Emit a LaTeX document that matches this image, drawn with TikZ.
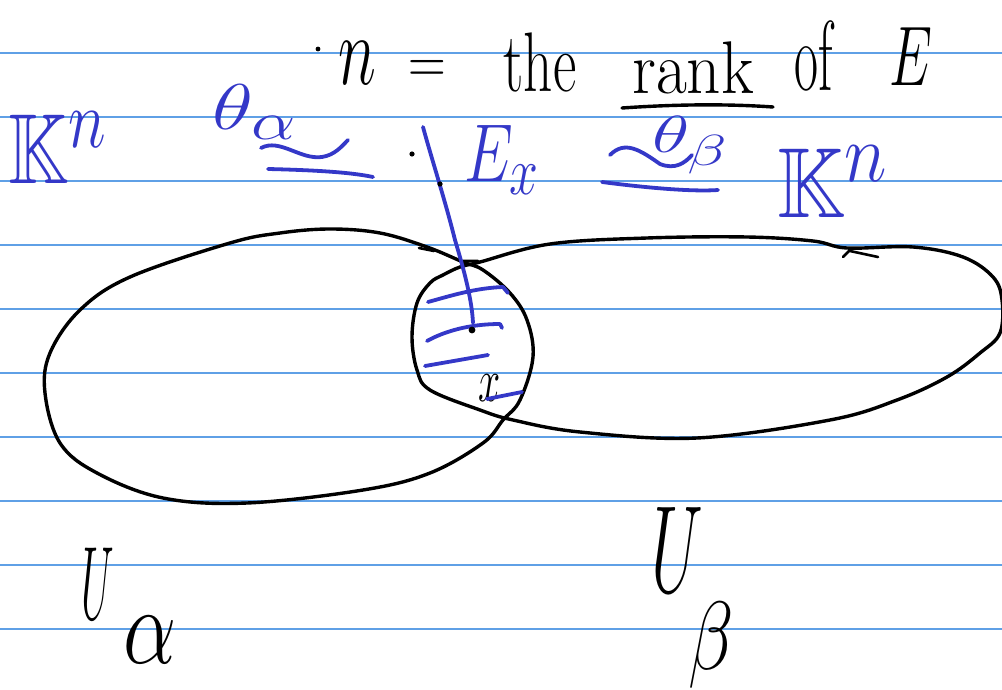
\documentclass[tikz,border=0pt]{standalone}
\usepackage{amssymb}
\usepackage{graphicx}
\definecolor{ink}{RGB}{52,56,200}
\definecolor{rulecol}{RGB}{95,160,230}
\newcommand{\hw}[3]{\scalebox{#1}[#2]{#3}}
\tikzset{
 txt/.style={inner sep=0pt, outer sep=0pt, font=\Huge},
 blk/.style={txt, text=black},
 blu/.style={txt, text=ink},
 pen/.style={draw=black, line width=3.4pt, line cap=round, line join=round},
 bpen/.style={draw=ink, line width=3.8pt, line cap=round, line join=round},
 ruling/.style={draw=rulecol, line width=1.2pt}
}
\begin{document}
\begin{tikzpicture}[x=1pt,y=-1pt]
\fill[white] (0,0) rectangle (1002,690);
\useasboundingbox (0,0) rectangle (1002,690);
\foreach \y in {53,117,...,629} \draw[ruling] (0,\y) -- (1002,\y);

% --- sets U_alpha and U_beta
\draw[pen] plot[smooth cycle, tension=0.6] coordinates {
 (330,229) (380,233) (427,247) (463,262) (483,270) (510,293) (527,320) (533,357)
 (520,400) (503,420) (483,443) (430,473) (363,490) (247,503) (163,498) (97,473)
 (60,443) (45,393) (50,353) (80,310) (130,277) (230,243) (280,233)};
\draw[pen] plot[smooth cycle, tension=0.6] coordinates {
 (480,262) (550,244) (647,238) (747,237) (813,241) (847,248) (913,247) (963,257)
 (993,277) (1002,300) (1000,333) (980,353) (947,377) (897,400) (830,420) (697,438)
 (580,432) (513,420) (480,410) (430,390) (417,370) (412,337) (417,303) (430,283)
 (443,275) (460,267)};
% small pen marks
\draw[pen, line width=2.6pt] (843,257) -- (850,250) (850,251) -- (878,257);
\draw[pen, line width=2.6pt] (419,248) -- (434,251) (463,261) -- (478,261);

% --- first line: n = the rank of E
\fill (318,49) circle (2.4pt);
\node[blk] (n) at (357,63) {\hw{2.6}{4}{$n$}};
\node[blk] (eq) at (427,72) {\hw{2.1}{2.6}{$=$}};
\node[blk] (the) at (540,62) {\hw{2.3}{3.4}{the}};
\node[blk] (rank) at (693,68) {\hw{2.7}{3}{rank}};
\node[blk] (of) at (814,56) {\hw{2.1}{4}{of}};
\node[blk] (E) at (911,57) {\hw{2.2}{3.4}{$E$}};
\draw[pen] (622,108) .. controls (680,104) and (730,104) .. (773,107);

% --- second line (blue)
\node[blu] (Kl) at (58,148) {\hw{3.1}{4}{$\mathbb{K}^n$}};
\node[blu] (tha) at (255,112) {\hw{3.4}{2.6}{$\theta_\alpha$}};
\draw[bpen] (261,148) .. controls (280,138) and (300,160) .. (322,157)
  .. controls (335,155) and (342,146) .. (348,140);
\draw[bpen] (268,169) .. controls (310,170) and (350,172) .. (373,177);
\fill (412,154) circle (2.6pt);
\draw[bpen] (423,127) .. controls (432,160) and (445,200) .. (455,240)
  .. controls (464,270) and (472,300) .. (473,323);
\fill (440,184) circle (2.6pt);
\node[blu] (Ex) at (502,160) {\hw{2.5}{3.3}{$E_x$}};
\draw[bpen] (610,155) .. controls (625,140) and (640,150) .. (660,164)
  .. controls (675,170) and (685,163) .. (692,155);
\node[blu] (thb) at (690,145) {\hw{3.1}{2.1}{$\theta_\beta$}};
\draw[bpen] (602,182) .. controls (640,187) and (690,192) .. (718,190);
\node[blu] (Kr) at (833,182) {\hw{3.5}{4}{$\mathbb{K}^n$}};

% --- strokes inside the intersection
\draw[bpen] (428,302) .. controls (450,296) and (475,288) .. (503,287) -- (508,293);
\draw[bpen] (427,341) .. controls (445,331) and (470,324) .. (500,324) -- (502,328);
\draw[bpen] (425,366) -- (488,355);
\fill (472,330) circle (3.4pt);
\node[blk] (x) at (490,388) {\hw{1.6}{2.5}{$x$}};
\draw[bpen] (487,399) -- (522,392);

% --- set labels
\node[blk] (Ua) at (98,584) {\hw{1.7}{4.2}{$U$}};
\node[blk] (al) at (150,640) {\hw{3.4}{4.4}{$\alpha$}};
\node[blk] (Ub) at (677,550) {\hw{2.7}{5}{$U$}};
\node[blk] (be) at (711,645) {\hw{3}{3.9}{$\beta$}};
\end{tikzpicture}
\end{document}
